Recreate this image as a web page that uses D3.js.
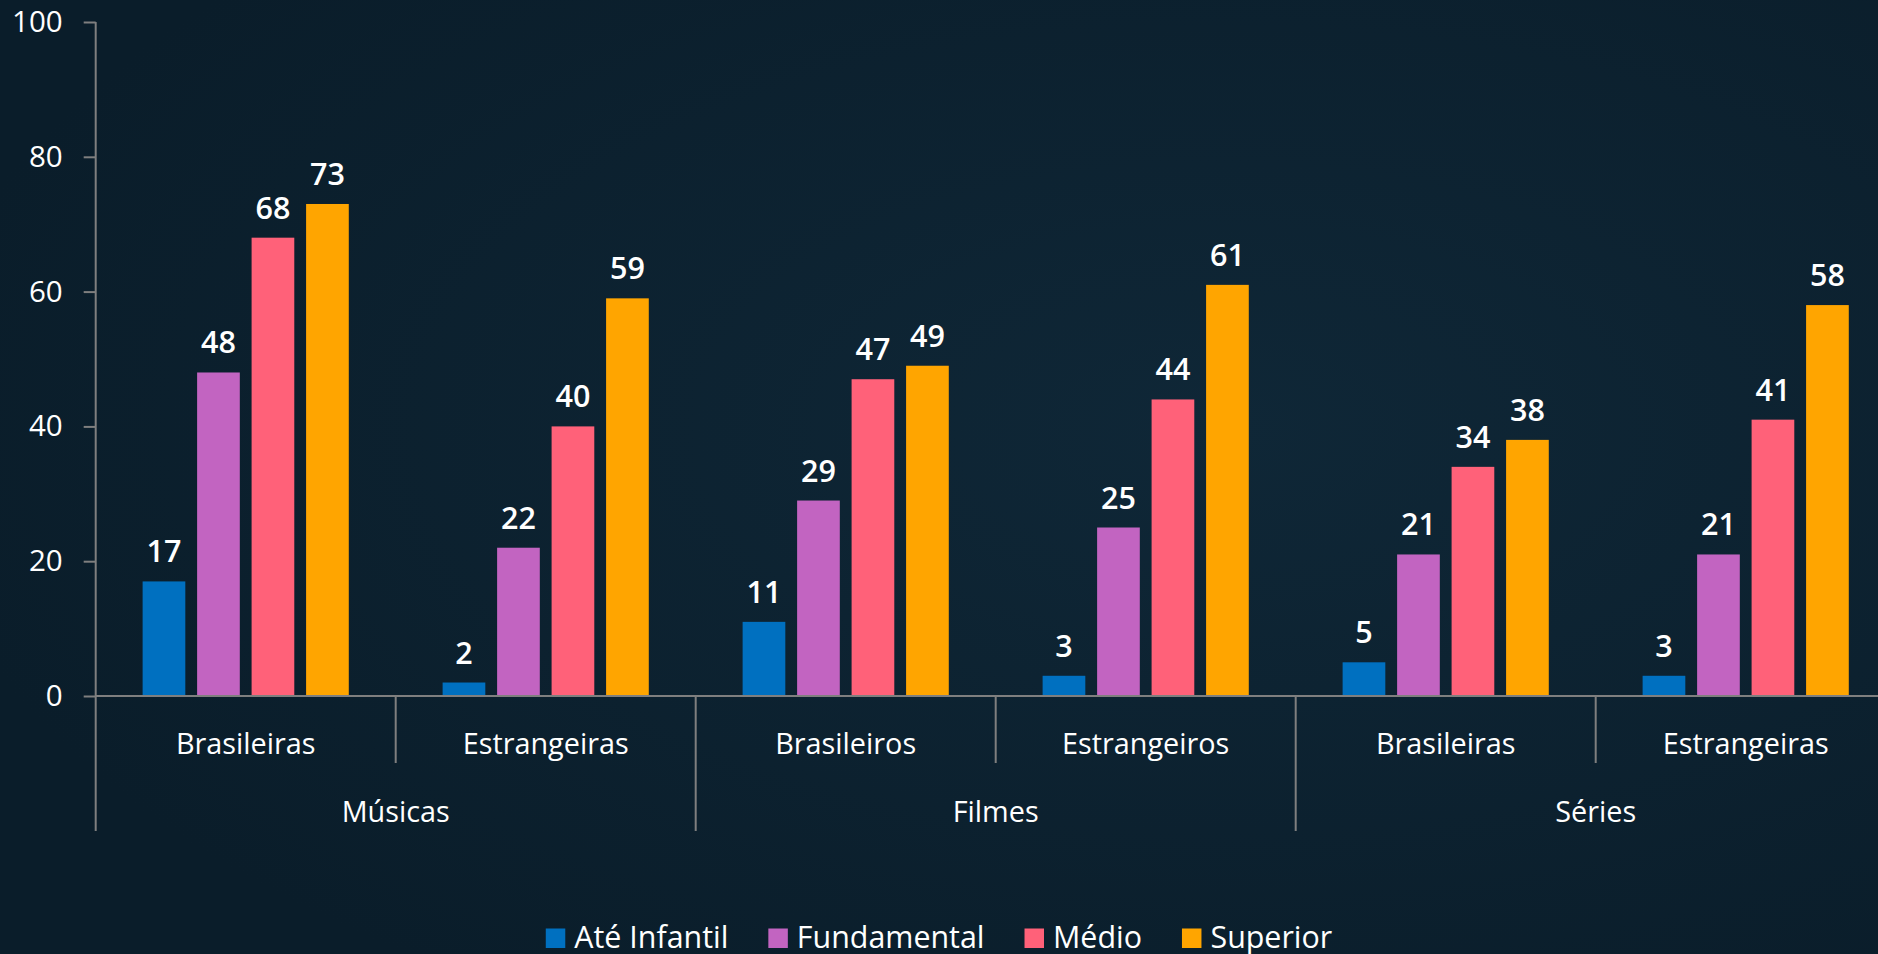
<!DOCTYPE html>
<html>
<head>
<meta charset="utf-8">
<script src="https://cdn.jsdelivr.net/npm/d3@7"></script>
<style>
  html, body { margin: 0; padding: 0; background: #0b1f2d; overflow: hidden; }
  svg { display: block; font-family: "Open Sans", "Noto Sans", sans-serif; }
</style>
</head>
<body>
<div id="chart"></div>
<script>
// data
var groups = ["Músicas", "Filmes", "Séries"];
var subgroups = ["Brasileiras", "Estrangeiras", "Brasileiros", "Estrangeiros", "Brasileiras", "Estrangeiras"];
var series = ["Até Infantil", "Fundamental", "Médio", "Superior"];
var ateInfantil = [17, 2, 11, 3, 5, 3];
var fundamental = [48, 22, 29, 25, 21, 21];
var medio = [68, 40, 47, 44, 34, 41];
var superior = [73, 59, 49, 61, 38, 58];
var yTicks = [0, 20, 40, 60, 80, 100];

var values = [ateInfantil, fundamental, medio, superior];
var colors = ["#0070c0", "#c264c1", "#ff6179", "#ffa500"];

var W = 1878, H = 954;
var axisX = 95.7, plotTop = 22, plotBase = 696;

var svg = d3.select("#chart").append("svg")
  .attr("width", W)
  .attr("height", H);

// background
var defs = svg.append("defs");
var grad = defs.append("radialGradient").attr("id", "bg")
  .attr("cx", "65%").attr("cy", "45%").attr("r", "70%");
grad.append("stop").attr("offset", "0%").attr("stop-color", "#0f2737");
grad.append("stop").attr("offset", "100%").attr("stop-color", "#0a1d2a");
svg.append("rect").attr("width", W).attr("height", H).attr("fill", "url(#bg)");

// scales
var y = d3.scaleLinear().domain([0, 100]).range([plotBase, plotTop]);
var slots = d3.range(subgroups.length);
var x0 = d3.scaleBand().domain(slots).range([axisX, axisX + 300 * subgroups.length]);
var x1 = d3.scaleBand().domain(d3.range(series.length))
  .range([0, x0.bandwidth()])
  .paddingInner(0.2165)
  .paddingOuter(0.861);

// y axis
var yAxis = svg.append("g")
  .attr("transform", "translate(" + axisX + ",0)")
  .call(d3.axisLeft(y).tickValues(yTicks).tickSize(12).tickPadding(21));
yAxis.select(".domain").remove();
yAxis.selectAll(".tick line").attr("stroke", "#7f7f7f").attr("stroke-width", 2);
yAxis.selectAll(".tick text")
  .attr("fill", "#ffffff")
  .style("font-size", "29.5px")
  .style("font-family", "'Open Sans', sans-serif");

// vertical axis line down through the category area
svg.append("line")
  .attr("x1", axisX).attr("x2", axisX)
  .attr("y1", y(100)).attr("y2", 831)
  .attr("stroke", "#7f7f7f").attr("stroke-width", 2);

// bars
var slotG = svg.append("g").selectAll("g")
  .data(slots)
  .enter().append("g")
  .attr("transform", function (d) { return "translate(" + x0(d) + ",0)"; });

slotG.selectAll("rect")
  .data(function (d) { return values.map(function (v, k) { return { k: k, v: v[d] }; }); })
  .enter().append("rect")
  .attr("x", function (d) { return x1(d.k); })
  .attr("y", function (d) { return y(d.v); })
  .attr("width", x1.bandwidth())
  .attr("height", function (d) { return y(0) - y(d.v); })
  .attr("fill", function (d) { return colors[d.k]; });

slotG.selectAll("text")
  .data(function (d) { return values.map(function (v, k) { return { k: k, v: v[d] }; }); })
  .enter().append("text")
  .attr("x", function (d) { return x1(d.k) + x1.bandwidth() / 2; })
  .attr("y", function (d) { return y(d.v) - 19; })
  .attr("text-anchor", "middle")
  .attr("fill", "#ffffff")
  .style("font-size", "30.5px")
  .style("font-weight", 600)
  .text(function (d) { return d.v; });

// x axis baseline
svg.append("line")
  .attr("x1", axisX).attr("x2", W)
  .attr("y1", plotBase).attr("y2", plotBase)
  .attr("stroke", "#7f7f7f").attr("stroke-width", 2);

// dividers between categories
svg.append("g").selectAll("line")
  .data(d3.range(1, subgroups.length))
  .enter().append("line")
  .attr("x1", function (d) { return x0(d); })
  .attr("x2", function (d) { return x0(d); })
  .attr("y1", plotBase)
  .attr("y2", function (d) { return d % 2 === 0 ? 831 : 763; })
  .attr("stroke", "#7f7f7f").attr("stroke-width", 2);

// sub-category labels
svg.append("g").selectAll("text")
  .data(slots)
  .enter().append("text")
  .attr("x", function (d) { return x0(d) + x0.bandwidth() / 2; })
  .attr("y", 754)
  .attr("text-anchor", "middle")
  .attr("fill", "#ffffff")
  .style("font-size", "28.8px")
  .text(function (d) { return subgroups[d]; });

// group labels
svg.append("g").selectAll("text")
  .data(groups)
  .enter().append("text")
  .attr("x", function (d, i) { return x0(i * 2) + x0.bandwidth(); })
  .attr("y", 822)
  .attr("text-anchor", "middle")
  .attr("fill", "#ffffff")
  .style("font-size", "28.8px")
  .text(function (d) { return d; });

// legend
var size = 19.5;
var legend = svg.append("g");
var items = legend.selectAll("g")
  .data(series)
  .enter().append("g");
items.append("rect")
  .attr("y", 928.5)
  .attr("width", size)
  .attr("height", size)
  .attr("fill", function (d, i) { return colors[i]; });
items.append("text")
  .attr("x", size + 9)
  .attr("y", 948)
  .attr("fill", "#ffffff")
  .style("font-size", "30.4px")
  .text(function (d) { return d; });

var offset = 0;
items.each(function () {
  var g = d3.select(this);
  g.attr("transform", "translate(" + offset + ",0)");
  offset += size + 9 + g.select("text").node().getComputedTextLength() + 40;
});
var legendW = offset - 40;
legend.attr("transform", "translate(" + (W / 2 - legendW / 2) + ",0)");
</script>
</body>
</html>
